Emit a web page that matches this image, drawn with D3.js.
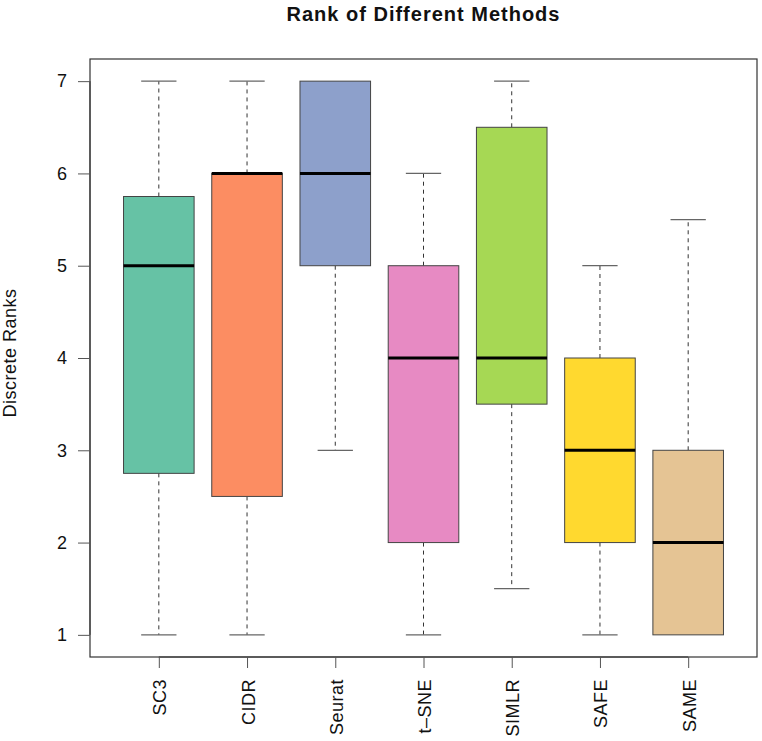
<!DOCTYPE html>
<html>
<head>
<meta charset="utf-8">
<script src="https://cdn.jsdelivr.net/npm/d3@7"></script>
<style>
  body { margin: 0; background: #fff; }
  svg { font-family: "Liberation Sans", Arial, Helvetica, sans-serif; }
</style>
</head>
<body>
<div id="chart"></div>
<script>
// Data
const methods = ["SC3", "CIDR", "Seurat", "t\u2013SNE", "SIMLR", "SAFE", "SAME"];
const lowWhisker = [1, 1, 3, 1, 1.5, 1, 1];
const q1 = [2.75, 2.5, 5, 2, 3.5, 2, 1];
const median = [5, 6, 6, 4, 4, 3, 2];
const q3 = [5.75, 6, 7, 5, 6.5, 4, 3];
const highWhisker = [7, 7, 7, 6, 7, 5, 5.5];
const colors = ["#66C2A5", "#FC8D62", "#8DA0CB", "#E78AC3", "#A6D854", "#FFD92F", "#E5C494"];
const yTicks = [1, 2, 3, 4, 5, 6, 7];

const width = 762;
const height = 741;
const plot = { left: 90, right: 757, top: 59, bottom: 657 };
const labelSize = 18;

const svg = d3.select("#chart")
    .append("svg")
    .attr("width", width)
    .attr("height", height);

// R style extents: 4% padding on each side
const x = d3.scaleLinear()
    .domain([0.22, methods.length + 0.78])
    .range([plot.left, plot.right]);
const y = d3.scaleLinear()
    .domain([0.76, 7.24])
    .range([plot.bottom, plot.top]);

const boxWidth = (x(1.8) - x(1));
const stapleWidth = boxWidth / 2;
const lineColor = "#333";

const boxes = methods.map((m, i) => ({
    name: m, pos: i + 1, lo: lowWhisker[i], q1: q1[i], med: median[i],
    q3: q3[i], hi: highWhisker[i], color: colors[i]
}));

const g = svg.append("g");

// Whiskers (dashed) and staples
boxes.forEach(d => {
    const cx = x(d.pos);
    [[d.q3, d.hi], [d.q1, d.lo]].forEach(([a, b]) => {
        if (a === b) return;
        g.append("line")
            .attr("x1", cx).attr("x2", cx)
            .attr("y1", y(a)).attr("y2", y(b))
            .attr("stroke", lineColor)
            .attr("stroke-width", 1)
            .attr("stroke-dasharray", "4,4");
        g.append("line")
            .attr("x1", cx - stapleWidth / 2).attr("x2", cx + stapleWidth / 2)
            .attr("y1", y(b)).attr("y2", y(b))
            .attr("stroke", "#666")
            .attr("stroke-width", 1.2);
    });
});

// Boxes
g.selectAll("rect.box")
    .data(boxes)
    .join("rect")
    .attr("class", "box")
    .attr("x", d => x(d.pos) - boxWidth / 2)
    .attr("width", boxWidth)
    .attr("y", d => y(d.q3))
    .attr("height", d => y(d.q1) - y(d.q3))
    .attr("fill", d => d.color)
    .attr("stroke", "#444")
    .attr("stroke-width", 1);

// Medians
g.selectAll("line.median")
    .data(boxes)
    .join("line")
    .attr("class", "median")
    .attr("x1", d => x(d.pos) - boxWidth / 2)
    .attr("x2", d => x(d.pos) + boxWidth / 2)
    .attr("y1", d => y(d.med))
    .attr("y2", d => y(d.med))
    .attr("stroke", "#000")
    .attr("stroke-width", 3);

// Frame
svg.append("rect")
    .attr("x", plot.left).attr("y", plot.top)
    .attr("width", plot.right - plot.left)
    .attr("height", plot.bottom - plot.top)
    .attr("fill", "none")
    .attr("stroke", lineColor)
    .attr("stroke-width", 1.2);

// Y axis
const yAxis = d3.axisLeft(y)
    .tickValues(yTicks)
    .tickFormat(d3.format("d"))
    .tickSize(12)
    .tickPadding(11);
svg.append("g")
    .attr("transform", `translate(${plot.left},0)`)
    .call(yAxis)
    .call(ax => ax.select(".domain").attr("stroke", lineColor).attr("d", `M0,${y(1)}V${y(7)}`))
    .call(ax => ax.selectAll(".tick line").attr("stroke", "#555"))
    .call(ax => ax.selectAll(".tick text")
        .attr("font-size", labelSize)
        .attr("fill", "#111")
        .style("font-family", "'Liberation Sans', Arial, sans-serif"));

// X axis
const xAxis = d3.axisBottom(x)
    .tickValues(boxes.map(d => d.pos))
    .tickFormat((d, i) => methods[i])
    .tickSize(11)
    .tickPadding(0);
svg.append("g")
    .attr("transform", `translate(0,${plot.bottom})`)
    .call(xAxis)
    .call(ax => ax.select(".domain").attr("stroke", lineColor).attr("d", `M${x(1)},0H${x(7)}`))
    .call(ax => ax.selectAll(".tick line").attr("stroke", "#555"))
    .call(ax => ax.selectAll(".tick text")
        .attr("font-size", labelSize)
        .attr("letter-spacing", 0.5)
        .attr("fill", "#111")
        .style("font-family", "'Liberation Sans', Arial, sans-serif")
        .attr("text-anchor", "end")
        .attr("dy", null)
        .attr("transform", "translate(7,22) rotate(-90)")
        .attr("y", 0)
        .attr("x", 0));

// Title
svg.append("text")
    .attr("x", (plot.left + plot.right) / 2)
    .attr("y", 21)
    .attr("text-anchor", "middle")
    .attr("font-size", 20)
    .attr("letter-spacing", 1)
    .attr("font-weight", "bold")
    .attr("fill", "#111")
    .text("Rank of Different Methods");

// Y label
svg.append("text")
    .attr("transform", `translate(16,353) rotate(-90)`)
    .attr("text-anchor", "middle")
    .attr("font-size", labelSize)
    .attr("letter-spacing", 0.5)
    .attr("fill", "#111")
    .text("Discrete Ranks");
</script>
</body>
</html>
